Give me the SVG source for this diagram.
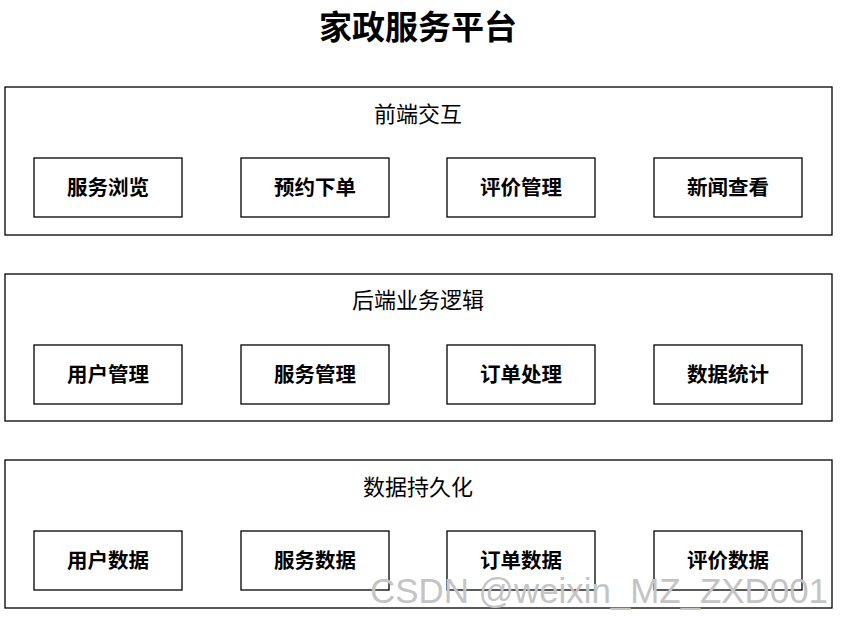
<svg xmlns="http://www.w3.org/2000/svg" width="841" height="617" viewBox="0 0 841 617">
<style>
.layer{fill:#fff;stroke:#000;stroke-width:1.3}
.box{fill:#fff;stroke:#000;stroke-width:1.3}
.lt{font-family:"Noto Sans CJK SC","Noto Sans",sans-serif;font-size:22px;fill:#000;text-anchor:middle}
.bt{font-family:"Noto Sans CJK SC","Noto Sans",sans-serif;font-size:20.5px;font-weight:bold;fill:#000;text-anchor:middle}
.title{font-family:"Noto Sans CJK SC","Noto Sans",sans-serif;font-size:33px;font-weight:bold;fill:#000;text-anchor:middle}
.wm{font-family:"Liberation Sans",Arial,sans-serif;font-size:35px;fill:#c4c4c4}
</style>
<rect width="841" height="617" fill="#fff"/>
<text class="title" x="418" y="39">家政服务平台</text>
<g id="layer-frontend">
<rect class="layer" x="5" y="87" width="827" height="148"/>
<text class="lt" x="418" y="122">前端交互</text>
</g>
<g id="node-fw"><rect class="box" x="34" y="158" width="148" height="59"/><text class="bt" x="108" y="195">服务浏览</text></g>
<g id="node-yy"><rect class="box" x="241" y="158" width="148" height="59"/><text class="bt" x="315" y="195">预约下单</text></g>
<g id="node-pj"><rect class="box" x="447" y="158" width="148" height="59"/><text class="bt" x="521" y="195">评价管理</text></g>
<g id="node-xw"><rect class="box" x="654" y="158" width="148" height="59"/><text class="bt" x="728" y="195">新闻查看</text></g>
<g id="layer-backend">
<rect class="layer" x="5" y="274" width="827" height="147"/>
<text class="lt" x="418" y="308">后端业务逻辑</text>
</g>
<g id="node-yh"><rect class="box" x="34" y="345" width="148" height="59"/><text class="bt" x="108" y="382">用户管理</text></g>
<g id="node-fwgl"><rect class="box" x="241" y="345" width="148" height="59"/><text class="bt" x="315" y="382">服务管理</text></g>
<g id="node-dd"><rect class="box" x="447" y="345" width="148" height="59"/><text class="bt" x="521" y="382">订单处理</text></g>
<g id="node-tj"><rect class="box" x="654" y="345" width="148" height="59"/><text class="bt" x="728" y="382">数据统计</text></g>
<g id="layer-data">
<rect class="layer" x="5" y="460" width="827" height="148"/>
<text class="lt" x="418" y="495">数据持久化</text>
</g>
<g id="node-yhsj"><rect class="box" x="34" y="531" width="148" height="59"/><text class="bt" x="108" y="568">用户数据</text></g>
<g id="node-fwsj"><rect class="box" x="241" y="531" width="148" height="59"/><text class="bt" x="315" y="568">服务数据</text></g>
<g id="node-ddsj"><rect class="box" x="447" y="531" width="148" height="59"/><text class="bt" x="521" y="568">订单数据</text></g>
<g id="node-pjsj"><rect class="box" x="654" y="531" width="148" height="59"/><text class="bt" x="728" y="568">评价数据</text></g>
<g id="connectors"></g>
<text class="wm" x="370" y="603" textLength="458" lengthAdjust="spacingAndGlyphs">CSDN @weixin_MZ_ZXD001</text>
</svg>
